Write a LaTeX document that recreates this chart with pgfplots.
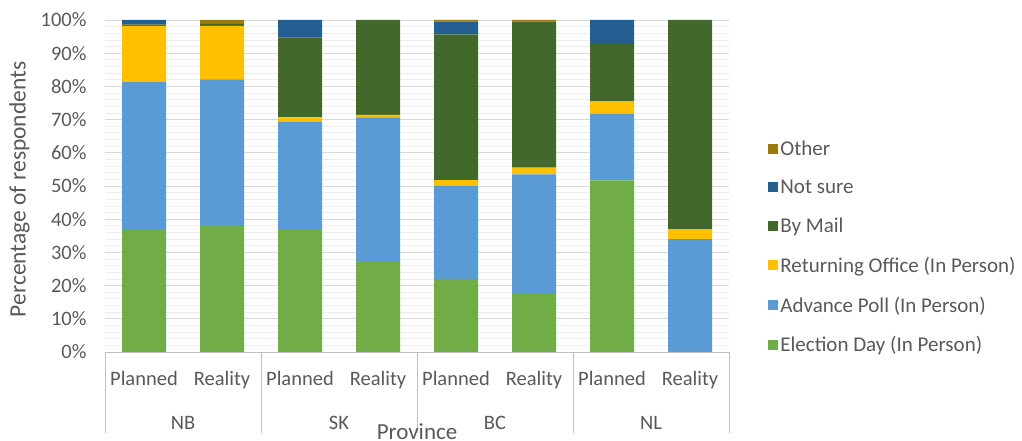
\documentclass[border=0pt]{standalone}
\usepackage{pgfplots}
\pgfplotsset{compat=1.18}
\usepackage{fontspec}
\setmainfont{Carlito}
\definecolor{cED}{HTML}{70AD47}
\definecolor{cAP}{HTML}{5B9BD5}
\definecolor{cRO}{HTML}{FFC000}
\definecolor{cBM}{HTML}{43682B}
\definecolor{cNS}{HTML}{255E91}
\definecolor{cOT}{HTML}{9C7A0C}
\definecolor{txt}{HTML}{595959}
\definecolor{gmaj}{HTML}{D9D9D9}
\definecolor{gmin}{HTML}{EDEDED}
\definecolor{axg}{HTML}{BFBFBF}
\begin{document}
\begin{tikzpicture}[x=1pt,y=1pt,font=\fontsize{20.5}{24}\selectfont]
\useasboundingbox (0,0) rectangle (1022,441);
\begin{axis}[
  at={(105pt,89pt)}, anchor=south west,
  scale only axis, width=624pt, height=332pt,
  ybar stacked, bar width=44pt,
  xmin=-0.5, xmax=7.5, ymin=0, ymax=100,
  enlargelimits=false,
  xtick={0,...,7},
  xticklabels={Planned,Reality,Planned,Reality,Planned,Reality,Planned,Reality},
  ytick={0,10,...,100},
  yticklabels={0\%,10\%,20\%,30\%,40\%,50\%,60\%,70\%,80\%,90\%,100\%},
  minor y tick num=4,
  ymajorgrids, yminorgrids,
  major grid style={draw=gmaj, line width=0.9pt},
  minor grid style={draw=gmin, line width=0.8pt},
  axis line style={draw=none},
  tick style={draw=none},
  major tick length=0pt, minor tick length=0pt,
  ticklabel style={text=txt, font=\fontsize{20.5}{24}\selectfont},
  xticklabel style={yshift=-16pt},
  yticklabel style={xshift=-15pt},
  ylabel={Percentage of respondents},
  ylabel style={at={(axis description cs:-0.137,0.49)}, anchor=center, text=txt, font=\fontsize{23.5}{26}\selectfont},
  xlabel={Province},
  xlabel style={at={(axis description cs:0.5,0)}, anchor=center, yshift=-80pt, text=txt, font=\fontsize{23}{26}\selectfont},
  clip=false,
  reverse legend,
  legend cell align=left,
  legend style={draw=none, fill=none, at={(1.058,0.316)}, anchor=west, row sep=19pt,
    font=\fontsize{21}{24}\selectfont, text=txt, /tikz/every even column/.append style={column sep=3pt}},
  legend image code/.code={\path[#1] (0pt,-5pt) rectangle (10pt,5pt);},
]
\addplot[fill=cED, draw=none] coordinates {(0,36.7) (1,37.9) (2,37.0) (3,27.4) (4,22.0) (5,17.5) (6,51.7) (7,0)};
\addplot[fill=cAP, draw=none] coordinates {(0,44.7) (1,44.2) (2,32.3) (3,43.3) (4,28.0) (5,36.0) (6,20.1) (7,34.0)};
\addplot[fill=cRO, draw=none] coordinates {(0,16.8) (1,16.1) (2,1.4) (3,0.7) (4,1.8) (5,2.0) (6,3.8) (7,3.0)};
\addplot[fill=cBM, draw=none] coordinates {(0,0.5) (1,0.6) (2,24.1) (3,28.6) (4,43.9) (5,44.0) (6,17.2) (7,63.0)};
\addplot[fill=cNS, draw=none] coordinates {(0,1.3) (1,0) (2,5.2) (3,0) (4,3.8) (5,0) (6,7.2) (7,0)};
\addplot[fill=cOT, draw=none] coordinates {(0,0) (1,1.2) (2,0) (3,0) (4,0.5) (5,0.5) (6,0) (7,0)};
\legend{Election Day (In Person),Advance Poll (In Person),Returning Office (In Person),By Mail,Not sure,Other}
\draw[axg, line width=0.9pt] (rel axis cs:0,0) -- (rel axis cs:1,0);
\draw[axg, line width=0.9pt] (axis cs:-0.5,0) -- ++(0pt,-81pt);
\draw[axg, line width=0.9pt] (axis cs:1.5,0) -- ++(0pt,-81pt);
\draw[axg, line width=0.9pt] (axis cs:3.5,0) -- ++(0pt,-81pt);
\draw[axg, line width=0.9pt] (axis cs:5.5,0) -- ++(0pt,-81pt);
\draw[axg, line width=0.9pt] (axis cs:7.5,0) -- ++(0pt,-81pt);
\node[text=txt, font=\fontsize{20.5}{24}\selectfont] at ([yshift=-71pt]axis cs:0.5,0) {NB};
\node[text=txt, font=\fontsize{20.5}{24}\selectfont] at ([yshift=-71pt]axis cs:2.5,0) {SK};
\node[text=txt, font=\fontsize{20.5}{24}\selectfont] at ([yshift=-71pt]axis cs:4.5,0) {BC};
\node[text=txt, font=\fontsize{20.5}{24}\selectfont] at ([yshift=-71pt]axis cs:6.5,0) {NL};
\end{axis}
\end{tikzpicture}
\end{document}
